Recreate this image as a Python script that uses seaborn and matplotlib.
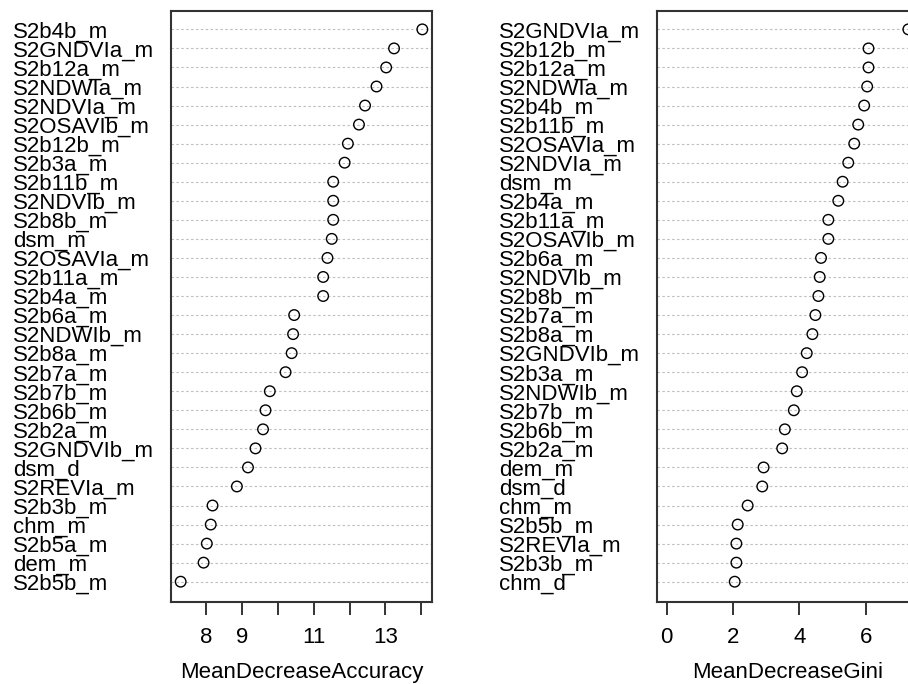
import matplotlib

matplotlib.use("Agg")
import matplotlib.pyplot as plt
import pandas as pd
import seaborn as sns

# Left panel: MeanDecreaseAccuracy (top to bottom)
acc_vars = [
    "S2b4b_m", "S2GNDVIa_m", "S2b12a_m", "S2NDWIa_m", "S2NDVIa_m",
    "S2OSAVIb_m", "S2b12b_m", "S2b3a_m", "S2b11b_m", "S2NDVIb_m",
    "S2b8b_m", "dsm_m", "S2OSAVIa_m", "S2b11a_m", "S2b4a_m",
    "S2b6a_m", "S2NDWIb_m", "S2b8a_m", "S2b7a_m", "S2b7b_m",
    "S2b6b_m", "S2b2a_m", "S2GNDVIb_m", "dsm_d", "S2REVIa_m",
    "S2b3b_m", "chm_m", "S2b5a_m", "dem_m", "S2b5b_m",
]
acc_values = [
    14.03, 13.24, 13.02, 12.75, 12.43,
    12.26, 11.95, 11.86, 11.54, 11.54,
    11.54, 11.50, 11.38, 11.26, 11.26,
    10.45, 10.42, 10.38, 10.21, 9.77,
    9.65, 9.58, 9.37, 9.16, 8.85,
    8.17, 8.12, 8.01, 7.92, 7.28,
]
acc_ticks = [8, 9, 10, 11, 12, 13, 14]
acc_tick_labels = ["8", "9", "", "11", "", "13", ""]

# Right panel: MeanDecreaseGini (top to bottom)
gini_vars = [
    "S2GNDVIa_m", "S2b12b_m", "S2b12a_m", "S2NDWIa_m", "S2b4b_m",
    "S2b11b_m", "S2OSAVIa_m", "S2NDVIa_m", "dsm_m", "S2b4a_m",
    "S2b11a_m", "S2OSAVIb_m", "S2b6a_m", "S2NDVIb_m", "S2b8b_m",
    "S2b7a_m", "S2b8a_m", "S2GNDVIb_m", "S2b3a_m", "S2NDWIb_m",
    "S2b7b_m", "S2b6b_m", "S2b2a_m", "dem_m", "dsm_d",
    "chm_m", "S2b5b_m", "S2REVIa_m", "S2b3b_m", "chm_d",
]
gini_values = [
    7.28, 6.08, 6.08, 6.04, 5.95,
    5.77, 5.65, 5.47, 5.30, 5.17,
    4.87, 4.87, 4.65, 4.61, 4.57,
    4.48, 4.39, 4.22, 4.08, 3.92,
    3.83, 3.56, 3.48, 2.92, 2.88,
    2.44, 2.14, 2.10, 2.10, 2.05,
]
gini_ticks = [0, 2, 4, 6]
gini_tick_labels = ["0", "2", "4", "6"]

sns.set_theme(style="white")
plt.rcParams["font.family"] = ["Liberation Sans", "DejaVu Sans"]

FIG_W, FIG_H = 908, 684
fig = plt.figure(figsize=(FIG_W / 100, FIG_H / 100), dpi=100)

EDGE = "#333333"
GRID = "#BEBEBE"


def dot_panel(rect, names, values, ticks, tick_labels, xlabel, xmin=None):
    ax = fig.add_axes(rect)
    df = pd.DataFrame({"var": names, "value": values})
    sns.stripplot(
        data=df, x="value", y="var", order=names, jitter=False,
        marker="o", size=7.6, facecolor="none", edgecolor="black",
        linewidth=1.0, ax=ax, zorder=3,
    )
    ax.set_xticks(ticks)
    ax.set_xticklabels(tick_labels)

    # dotchart-style range: data range padded by 4% on each side
    lo = min(values) if xmin is None else xmin
    hi = max(values)
    span = hi - lo
    ax.set_xlim(lo - 0.04 * span, hi + 0.04 * span)
    ax.set_ylim(len(names) - 1 + 1.05, -0.98)

    ax.grid(axis="y", color=GRID, linestyle=(0, (2.2, 2.2)), linewidth=0.8)
    ax.grid(axis="x", visible=False)
    ax.set_axisbelow(True)

    ax.tick_params(axis="x", bottom=True, length=9.5, width=1.4, color=EDGE,
                   pad=9, labelsize=16, labelcolor="black")
    ax.tick_params(axis="y", left=False, length=0, pad=114, labelsize=16,
                   labelcolor="black")
    for lab in ax.get_yticklabels():
        lab.set_horizontalalignment("left")

    for sp in ax.spines.values():
        sp.set_visible(True)
        sp.set_color(EDGE)
        sp.set_linewidth(1.5)

    ax.set_xlabel(xlabel, fontsize=16, labelpad=10, color="black")
    ax.set_ylabel("")
    return ax


panel_w = 261 / FIG_W
panel_b = 1 - 601.7 / FIG_H
panel_h = (601.7 - 10.7) / FIG_H

dot_panel([171 / FIG_W, panel_b, panel_w, panel_h], acc_vars, acc_values,
          acc_ticks, acc_tick_labels, "MeanDecreaseAccuracy")
dot_panel([657 / FIG_W, panel_b, panel_w, panel_h], gini_vars, gini_values,
          gini_ticks, gini_tick_labels, "MeanDecreaseGini", xmin=0)

fig.savefig("out.png", dpi=100)
